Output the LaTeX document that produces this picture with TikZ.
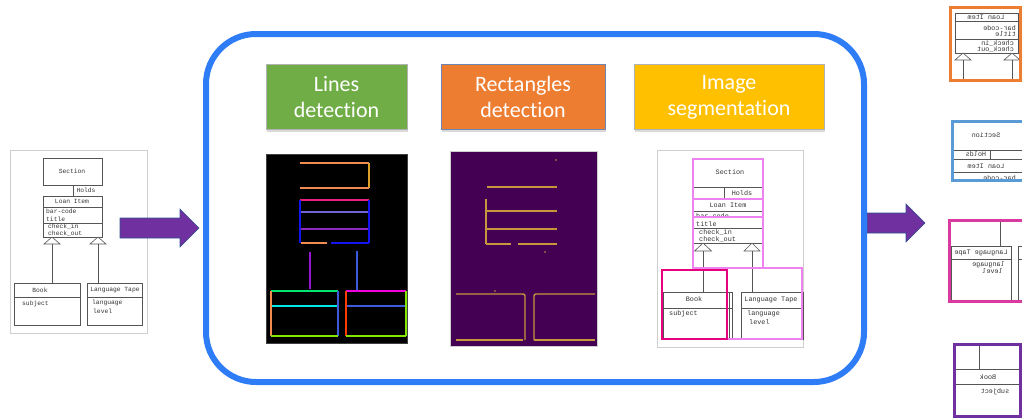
\documentclass[tikz,border=0pt]{standalone}
\usepackage{fontspec}
\usepackage{graphicx}
\usetikzlibrary{shadows}
\newfontfamily\hdrfont[Ligatures={NoCommon,NoRare,NoDiscretionary}]{Carlito}
\newfontfamily\monofont{Liberation Mono}

% palette
\definecolor{hgreen}{HTML}{70AD47}
\definecolor{horange}{HTML}{ED7D31}
\definecolor{hyellow}{HTML}{FFC000}
\definecolor{panelblue}{HTML}{2E7DF7}
\definecolor{arrowfill}{HTML}{7030A0}
\definecolor{arrowedge}{HTML}{2F528F}
\definecolor{umlgray}{HTML}{555555}
\definecolor{umltext}{HTML}{333333}
\definecolor{framegray}{HTML}{CFCFCF}
\definecolor{viridisbg}{HTML}{440154}
\definecolor{edgegold}{HTML}{C8963C}
\definecolor{segviolet}{HTML}{EE82EE}
\definecolor{segpink}{HTML}{E5007D}
\definecolor{cropblue}{HTML}{5B9BD5}
\definecolor{cropmagenta}{HTML}{D93AA0}
\definecolor{croppurple}{HTML}{7030A0}
% detected line colours
\definecolor{lnorange}{RGB}{240,140,80}
\definecolor{lngold}{RGB}{220,160,40}
\definecolor{lnpink}{RGB}{235,30,130}
\definecolor{lnblue}{RGB}{20,20,240}
\definecolor{lnslate}{RGB}{110,100,210}
\definecolor{lnpurple}{RGB}{140,40,190}
\definecolor{lnviolet}{RGB}{150,20,210}
\definecolor{lnmidblue}{RGB}{60,90,220}
\definecolor{lngreen}{RGB}{0,230,110}
\definecolor{lncyan}{RGB}{0,230,230}
\definecolor{lnlime}{RGB}{130,230,0}
\definecolor{lnmagenta}{RGB}{240,0,220}
\definecolor{lnred}{RGB}{255,60,0}

\tikzset{
  hdrbox/.style={draw=gray!60, line width=0.6pt, text=white, align=center,
    font=\hdrfont\fontsize{22}{26}\selectfont, inner sep=0pt,
    drop shadow={opacity=0.3, shadow xshift=1.2pt, shadow yshift=-2pt}},
  bigarrow/.style={fill=arrowfill, draw=arrowedge, line width=0.6pt},
  uml/.style={draw=umlgray, line width=0.6pt},
  umltxt/.style={font=\monofont\fontsize{6.3}{7}\selectfont, inner sep=0pt, text=umltext},
  umlsmall/.style={font=\monofont\fontsize{6.8}{7.5}\selectfont, inner sep=0pt, text=umltext},
  imgframe/.style={draw=framegray, line width=0.8pt},
  det/.style={line width=2.2pt},
  edge/.style={draw=edgegold, line width=1.4pt},
  cropframe/.style={line width=3pt}
}

\begin{document}
\begin{tikzpicture}[x=1pt, y=-1pt]
\useasboundingbox (0,0) rectangle (1022,418);

% ---------- input class diagram ----------
\draw[imgframe] (10,150) rectangle (147,333);
\draw[uml] (43,158) rectangle (102,185);
\node[umltxt] (inSection) at (72,171) {Section};
\draw[uml] (73,185) -- (73,196);
\node[umltxt] (inHolds) at (86,190.5) {Holds};
\draw[uml] (43,196) rectangle (102,237);
\draw[uml] (43,207) -- (102,207);
\draw[uml] (43,223) -- (102,223);
\node[umltxt] (inLoan) at (72,201.5) {Loan Item};
\node[umltxt, anchor=west] (inBar) at (46,211) {bar-code};
\node[umltxt, anchor=west] (inTitle) at (46,219) {title};
\node[umltxt, anchor=west] (inIn) at (48,227) {check\_in};
\node[umltxt, anchor=west] (inOut) at (48,234) {check\_out};
\draw[uml, fill=white] (52,237) -- (44,244) -- (60,244) -- cycle;
\draw[uml, fill=white] (98,237) -- (90,244) -- (106,244) -- cycle;
\draw[uml] (52,244) -- (52,283);
\draw[uml] (98,244) -- (98,283);
\draw[uml] (14,283) rectangle (80,325);
\draw[uml] (14,297) -- (80,297);
\node[umltxt] (inBook) at (40,290) {Book};
\node[umltxt, anchor=west] (inSubj) at (22,304) {subject};
\draw[uml] (87,283) rectangle (142,325);
\draw[uml] (87,297) -- (142,297);
\node[umltxt] (inTape) at (115,290) {Language Tape};
\node[umltxt, anchor=west] (inLang) at (92,303) {language};
\node[umltxt, anchor=west] (inLevel) at (93,311) {level};

% ---------- block arrows ----------
\draw[bigarrow] (120,218) -- (180,218) -- (180,209) -- (199,228) -- (180,247) -- (180,238) -- (120,238) -- cycle;
\draw[bigarrow] (867,213) -- (906,213) -- (906,204) -- (925,223) -- (906,242) -- (906,233) -- (867,233) -- cycle;

% ---------- processing panel ----------
\draw[draw=panelblue, line width=6pt, rounded corners=50pt] (206,34) rectangle (864,382);

\node[hdrbox, fill=hgreen, minimum width=141pt, minimum height=65pt] (hLines) at (336.5,97) {Lines\\detection};
\node[hdrbox, fill=horange, draw=arrowedge!70, minimum width=164pt, minimum height=65pt] (hRects) at (523,97) {Rectangles\\detection};
\node[hdrbox, fill=hyellow, minimum width=190pt, minimum height=65pt] (hSeg) at (729,97) {Image\\segmentation};

% lines detection output
\fill[black] (266,154) rectangle (407,343);
\draw[gray!50!black, line width=0.6pt] (266,154) rectangle (407,343);
\draw[det, lnorange] (300,163) -- (369,163);
\draw[det, lngold] (369,163) -- (369,188);
\draw[det, lnorange] (300,188) -- (369,188);
\draw[det, lnpink] (300,200) -- (369,200);
\draw[det, lnblue] (300,200) -- (300,243);
\draw[det, lnblue] (369,200) -- (369,243);
\draw[det, lnslate] (301,212) -- (368,212);
\draw[det, lnpurple] (301,229) -- (368,229);
\draw[det, lnorange] (301,243) -- (327,243);
\draw[det, lnblue] (331,243) -- (369,243);
\draw[det, lnviolet] (310,252) -- (310,289);
\draw[det, lnmidblue] (357,251) -- (357,290);
\draw[det, lngreen] (271,291) -- (338,291);
\draw[det, lnorange] (271,291) -- (271,336);
\draw[det, lnmidblue] (338,291) -- (338,336);
\draw[det, lnlime] (271,336) -- (338,336);
\draw[det, lncyan] (272,306) -- (337,306);
\draw[det, lnmagenta] (346,291) -- (406,291);
\draw[det, lnred] (346,291) -- (346,336);
\draw[det, lnlime] (406,291) -- (406,336);
\draw[det, lnlime] (346,336) -- (406,336);
\draw[det, lnmidblue] (347,306) -- (405,306);

% rectangles detection output
\fill[viridisbg] (450,151) rectangle (597,346);
\draw[framegray, line width=0.6pt] (450,151) rectangle (597,346);
\draw[edge] (487,187) -- (557,187);
\draw[edge] (486,199) -- (486,244);
\draw[edge] (486,211) -- (557,211);
\draw[edge] (486,229) -- (557,229);
\draw[edge] (486,244) -- (511,244);
\draw[edge] (518,244) -- (557,244);
\fill[edgegold] (556,160) circle (0.9);
\fill[edgegold] (545,252) circle (0.9);
\fill[edgegold] (495,291) circle (0.9);
\draw[edge, rounded corners=2pt] (456,294) -- (525,294) -- (525,340);
\draw[edge] (456,340) -- (523,340);
\draw[edge, rounded corners=2pt] (534,340) -- (534,294) -- (595,294);
\draw[edge] (534,340) -- (595,340);

% image segmentation output
\draw[imgframe] (657,150) rectangle (803,347);
\draw[uml] (693,159) rectangle (763,243);
\draw[uml] (693,187) -- (763,187);
\draw[uml] (724,187) -- (724,199);
\draw[uml] (693,199) -- (763,199);
\draw[uml] (693,211) -- (763,211);
\draw[uml] (693,228) -- (763,228);
\node[umlsmall] (sgSection) at (730,172) {Section};
\node[umlsmall] (sgHolds) at (742,193) {Holds};
\node[umlsmall] (sgLoan) at (728,205) {Loan Item};
\node[umlsmall, anchor=west] (sgBar) at (696,216) {bar-code};
\node[umlsmall, anchor=west] (sgTitle) at (696,224) {title};
\node[umlsmall, anchor=west] (sgIn) at (699,232.5) {check\_in};
\node[umlsmall, anchor=west] (sgOut) at (699,239.5) {check\_out};
\draw[uml, fill=white] (703,243) -- (694.5,251) -- (711.5,251) -- cycle;
\draw[uml, fill=white] (752,243) -- (744,251) -- (760,251) -- cycle;
\draw[uml] (703,251) -- (703,292);
\draw[uml] (752,251) -- (752,292);
\draw[uml] (663,292) rectangle (732,339);
\draw[uml] (663,308) -- (732,308);
\draw[uml] (729,292) -- (729,339);
\node[umlsmall] (sgBook) at (694,299) {Book};
\node[umlsmall, anchor=west] (sgSubj) at (669,314) {subject};
\draw[uml] (741,292) rectangle (803,339);
\draw[uml] (741,308) -- (803,308);
\node[umlsmall] (sgTape) at (771,300) {Language Tape};
\node[umlsmall, anchor=west] (sgLang) at (747,314) {language};
\node[umlsmall, anchor=west] (sgLevel) at (749,322) {level};
\draw[segviolet, line width=1.8pt] (693,159) rectangle (763,217);
\draw[segviolet, line width=1.8pt] (693,199) rectangle (763,268);
\draw[segviolet, line width=1.8pt] (727,268) rectangle (802,339);
\draw[segpink, line width=2.6pt] (662,270) rectangle (727,339);

% ---------- extracted regions (mirrored) ----------
\begin{scope}
\clip (0,0) rectangle (1022,418);
% Loan Item region
\draw[uml] (955,13) rectangle (1018,53);
\draw[uml] (955,21) -- (1018,21);
\draw[uml] (955,39) -- (1018,39);
\node[umlsmall] (rLoan) at (986,17) {\reflectbox{Loan Item}};
\node[umlsmall, anchor=east] (rBar) at (1016,28.5) {\reflectbox{bar-code}};
\node[umlsmall, anchor=east] (rTitle) at (1016,34.5) {\reflectbox{title}};
\node[umlsmall, anchor=east] (rIn) at (1014,43) {\reflectbox{check\_in}};
\node[umlsmall, anchor=east] (rOut) at (1014,49) {\reflectbox{check\_out}};
\draw[uml, fill=white] (963,53) -- (955,60) -- (971,60) -- cycle;
\draw[uml, fill=white] (1012,53) -- (1004,60) -- (1020,60) -- cycle;
\draw[uml] (963,60) -- (963,80);
\draw[uml] (1012,60) -- (1012,80);
\draw[cropframe, horange] (950,7) rectangle (1020.5,80);

% Section region
\draw[uml] (952,150) -- (1024,150);
\draw[uml] (952,159) -- (1024,159);
\draw[uml] (952,172) -- (1024,172);
\draw[uml] (990,150) -- (990,159);
\node[umlsmall] (rSection) at (986,135) {\reflectbox{Section}};
\node[umlsmall] (rHolds) at (976,154.5) {\reflectbox{Holds}};
\node[umlsmall] (rLoanB) at (986,166) {\reflectbox{Loan Item}};
\node[umlsmall, anchor=east] (rBarB) at (1016,178) {\reflectbox{bar-code}};
\fill[white] (950,180) rectangle (1024,186);
\draw[cropframe, cropblue] (952,121) rectangle (1026,180);

% Language Tape region
\draw[uml] (1000,220) -- (1000,246);
\draw[uml] (951,246) rectangle (1011,301);
\draw[uml] (951,259) -- (1011,259);
\draw[uml] (1018,246) -- (1026,246);
\draw[uml] (1018,259) -- (1026,259);
\draw[uml] (1018,246) -- (1018,301);
\node[umlsmall] (rTape) at (981,253) {\reflectbox{Language Tape}};
\node[umlsmall, anchor=east] (rLang) at (1005,264.5) {\reflectbox{language}};
\node[umlsmall, anchor=east] (rLevel) at (1003,271.5) {\reflectbox{level}};
\draw[cropframe, cropmagenta] (949,220) rectangle (1026,301);

% Book region
\draw[uml] (979,344) -- (979,369);
\draw[uml] (954,369) -- (1020,369);
\draw[uml] (954,384) -- (1020,384);
\node[umlsmall] (rBook) at (988,377) {\reflectbox{Book}};
\node[umlsmall] (rSubj) at (995,392) {\reflectbox{subject}};
\draw[cropframe, croppurple] (954,344) rectangle (1020,416.5);
\end{scope}
\end{tikzpicture}
\end{document}
